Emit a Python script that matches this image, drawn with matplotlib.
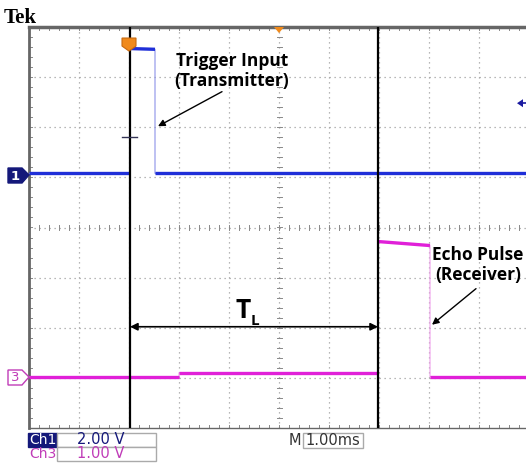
import numpy as np
import matplotlib
matplotlib.use("Agg")
import matplotlib.pyplot as plt
from matplotlib.patches import Rectangle, Polygon

# Scope settings
ch1_scale = 2.0     # V/div
ch3_scale = 1.0     # V/div
ch1_offset = 1.08   # div
ch3_offset = -2.98  # div

# Ch1 (transmitter trigger), time in ms, voltage in V
ch1_t = [-5.0, -2.98, -2.98, -2.48, -2.48, 5.0]
ch1_v = [0.0, 0.0, 4.98, 4.95, 0.0, 0.0]

# Ch3 (echo pulse receiver)
ch3_t = [-5.0, -2.0, -2.0, 1.98, 1.98, 3.02, 3.02, 5.0]
ch3_v = [0.0, 0.0, 0.08, 0.08, 2.70, 2.62, 0.0, 0.0]

# cursor positions (ms)
cursors = [-2.98, 1.98]

W, H = 526, 467
fig = plt.figure(figsize=(W / 100, H / 100), dpi=100)
fig.patch.set_facecolor("white")


def fpx(x, y):
    # pixel -> figure fraction
    return x / W, 1 - y / H


ax = fig.add_axes([29 / W, 39 / H, 500 / W, 401 / H])
ax.set_xlim(-5, 5)
ax.set_ylim(-4, 4)
ax.set_xticks([])
ax.set_yticks([])
for s in ax.spines.values():
    s.set_color("#666666")
    s.set_linewidth(1.0)
ax.spines["top"].set_linewidth(2.5)
ax.spines["left"].set_linewidth(2.0)

# graticule
gcol = "#a0a0a0"
for gx in range(-4, 5):
    ax.axvline(gx, color=gcol, lw=0.9, ls=(0, (1, 3)), zorder=1)
for gy in range(-3, 4):
    ax.axhline(gy, color=gcol, lw=0.9, ls=(0, (1, 3)), zorder=1)
minor = np.arange(-5, 5.01, 0.2)
minor_y = np.arange(-4, 4.01, 0.2)
tk = dict(color="#888888", lw=0.7, zorder=1)
for m in minor:
    ax.plot([m, m], [-0.05, 0.05], **tk)
    ax.plot([m, m], [4, 3.94], **tk)
    ax.plot([m, m], [-4, -3.94], **tk)
for m in minor_y:
    ax.plot([-0.05, 0.05], [m, m], **tk)
    ax.plot([-5, -4.94], [m, m], **tk)

# traces
def draw(t, v, scale, off, col, edge):
    y = np.array(v) / scale + off
    t = np.array(t)
    ax.plot(t, y, color=edge, lw=0.8, zorder=3)
    for i in range(len(t) - 1):
        if t[i + 1] != t[i]:
            ax.plot(t[i:i + 2], y[i:i + 2], color=col, lw=2.4,
                    solid_capstyle="butt", zorder=4)

draw(ch1_t, ch1_v, ch1_scale, ch1_offset, "#1f2fd8", "#8d93e8")
draw(ch3_t, ch3_v, ch3_scale, ch3_offset, "#e020d8", "#f0a0ec")

# cursors
for c in cursors:
    ax.axvline(c, color="black", lw=1.6, zorder=5)

# trigger level dash
ax.plot([-3.14, -2.84], [1.8, 1.8], color="#333355", lw=1.0, zorder=5)

bold = dict(fontweight="bold", family=["Open Sans", "DejaVu Sans"])

# T_L double arrow
ax.annotate("", xy=(cursors[0], -1.98), xytext=(cursors[1], -1.98),
            arrowprops=dict(arrowstyle="<|-|>", color="black", lw=1.2,
                            mutation_scale=11, shrinkA=0, shrinkB=0), zorder=6)
ax.text(-0.86, -1.8, "T", fontsize=19, ha="left", va="baseline", zorder=6, **bold)
ax.text(-0.56, -1.95, "L", fontsize=11, ha="left", va="baseline", zorder=6, **bold)

# annotations
ax.text(-0.94, 3.13, "Trigger Input\n(Transmitter)", ha="center", va="center",
        fontsize=12.5, linespacing=1.15, zorder=7, **bold)
ax.annotate("", xy=(-2.42, 2.02), xytext=(-1.14, 2.71),
            arrowprops=dict(arrowstyle="-|>", color="black", lw=1.0,
                            mutation_scale=10, shrinkA=0, shrinkB=0), zorder=7)
ax.text(3.98, -0.74, "Echo Pulse\n(Receiver)", ha="center", va="center",
        fontsize=12.5, linespacing=1.15, zorder=7, **bold)
ax.annotate("", xy=(3.06, -1.94), xytext=(3.94, -1.22),
            arrowprops=dict(arrowstyle="-|>", color="black", lw=1.0,
                            mutation_scale=10, shrinkA=0, shrinkB=0), zorder=7)

# trigger position marker (orange) and center marker
ax.add_patch(Polygon([(-3.14, 3.78), (-2.86, 3.78), (-2.86, 3.62), (-3.0, 3.52),
                      (-3.14, 3.62)], closed=True, facecolor="#f08a1c",
                     edgecolor="#c86a10", lw=0.8, zorder=8, clip_on=False))
ax.add_patch(Polygon([(-0.1, 4.0), (0.1, 4.0), (0.0, 3.88)], closed=True,
                     facecolor="#f08a1c", edgecolor="none", zorder=8, clip_on=False))
# trigger level arrow (right side)
ax.add_patch(Polygon([(4.76, 2.48), (4.88, 2.56), (4.88, 2.40)], closed=True,
                     facecolor="#1a1aa0", edgecolor="none", zorder=8))
ax.plot([4.88, 5.0], [2.48, 2.48], color="#1a1aa0", lw=1.2, zorder=8)

# text outside the graticule
fig.text(*fpx(4, 23), "Tek", fontsize=15, fontweight="bold",
         family="Liberation Serif", ha="left", va="baseline")

def shape(pts, fc, ec):
    fig.add_artist(Polygon([fpx(x, y) for x, y in pts], closed=True,
                           facecolor=fc, edgecolor=ec, lw=1.0,
                           transform=fig.transFigure))

# channel ground markers
shape([(8, 168), (22, 168), (29, 175), (22, 183), (8, 183)], "#14187a", "#14187a")
fig.text(*fpx(15, 176), "1", color="white", fontsize=9.5, fontweight="bold",
         ha="center", va="center")
shape([(8, 370), (22, 370), (29, 377), (22, 385), (8, 385)], "white", "#c03cb8")
fig.text(*fpx(15, 377.5), "3", color="#c03cb8", fontsize=9.5,
         ha="center", va="center")

def box(x0, y0, x1, y1, fc, ec):
    x, y = fpx(x0, y1)
    fig.add_artist(Rectangle((x, y), (x1 - x0) / W, (y1 - y0) / H,
                             facecolor=fc, edgecolor=ec, lw=1.0,
                             transform=fig.transFigure))

lbl = dict(fontsize=10.5, family="DejaVu Sans", va="center")
box(28, 433, 57, 447, "#14187a", "#14187a")
box(57, 433, 156, 447, "white", "#aaaaaa")
box(57, 447, 156, 461, "white", "#aaaaaa")
fig.text(*fpx(42.5, 440), "Ch1", color="white", ha="center",
         **{**lbl, "fontsize": 10})
fig.text(*fpx(77, 440), "2.00 V", color="#14187a", ha="left", **lbl)
fig.text(*fpx(42.5, 454), "Ch3", color="#c03cb8", ha="center",
         **{**lbl, "fontsize": 10})
fig.text(*fpx(77, 454), "1.00 V", color="#c03cb8", ha="left", **lbl)

box(303, 433, 363, 448, "white", "#aaaaaa")
fig.text(*fpx(295, 440.5), "M", color="#333333", ha="center", **lbl)
fig.text(*fpx(333, 440.5), "1.00ms", color="#333333", ha="center", **lbl)

fig.savefig("out.png", dpi=100)
